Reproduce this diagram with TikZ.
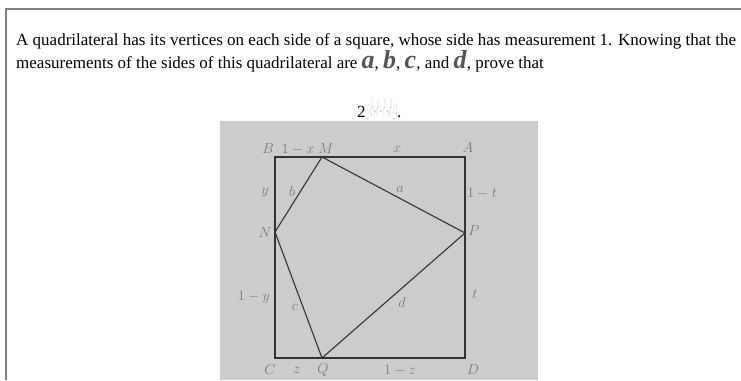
\documentclass[tikz,border=0pt]{standalone}
\usepackage{amsmath}
\usepackage{fontspec}
\setmainfont{Liberation Serif}
\newfontfamily\varfont{Liberation Serif}[BoldItalicFont={* Bold Italic}]
\usepackage{graphicx}
\definecolor{bgray}{HTML}{CCCCCC}
\definecolor{lblgray}{HTML}{7A7A7A}
\definecolor{linegray}{HTML}{333333}
\definecolor{framegray}{HTML}{808080}
\definecolor{vargray}{HTML}{555555}
\newcommand{\bigvar}[1]{\smash{\textcolor{vargray}{\fontsize{26}{26}\selectfont\varfont\textbf{\textit{#1}}}}}
\begin{document}
\begin{tikzpicture}[x=1pt,y=-1pt,
  body/.style={inner sep=0pt,anchor=base west,font=\fontsize{17}{20}\selectfont},
  lbl/.style={inner sep=0pt,text=lblgray,font=\fontsize{14}{14}\selectfont},
  sq/.style={draw=linegray,line width=1.3pt},
  quad/.style={draw=linegray,line width=1.1pt,line join=round}]
\useasboundingbox (0,0) rectangle (741,380);
\fill[white] (0,0) rectangle (741,380);
% frame
\draw[framegray,line width=1.3pt] (741,9) -- (6,9) -- (6,380);
% text
\node[body] (t1) at (16,45) {A quadrilateral has its vertices on each side of a square, whose side has measurement 1. Knowing that the};
\node[body] (t2) at (16,68) {measurements of the sides of this quadrilateral are \bigvar{a}, \bigvar{b}, \bigvar{c}, and \bigvar{d}, prove that};
\node[body] (two) at (357,117) {2};
\node[inner sep=0pt,anchor=base west,text=gray!60] (garb) at (367,116) {\resizebox{30pt}{16pt}{$\le a^2+b^2+c^2+d^2\le 4$}};
\node[body] (dot) at (397,117) {.};
% gray background
\fill[bgray] (220,121) rectangle (538,380);
% square
\coordinate (B) at (275,157);
\coordinate (A) at (465,157);
\coordinate (C) at (275,358);
\coordinate (D) at (465,358);
\coordinate (M) at (322,157);
\coordinate (N) at (275,232);
\coordinate (P) at (465,233);
\coordinate (Q) at (322,358);
\draw[sq] (B) -- (A) -- (D) -- (C) -- cycle;
\draw[quad] (M) -- (P) -- (Q) -- (N) -- cycle;
% labels
\node[lbl] (lB) at (268,149) {$B$};
\node[lbl] (l1x) at (298,149) {$1-x$};
\node[lbl] (lM) at (326,149) {$M$};
\node[lbl] (lx) at (397,149) {$x$};
\node[lbl] (lA) at (468,148) {$A$};
\node[lbl] (ly) at (265,193) {$y$};
\node[lbl] (lb) at (292,191) {$b$};
\node[lbl] (la) at (400,189) {$a$};
\node[lbl] (l1t) at (482,193) {$1-t$};
\node[lbl] (lN) at (265,233) {$N$};
\node[lbl] (lP) at (474,231) {$P$};
\node[lbl] (l1y) at (254,297) {$1-y$};
\node[lbl] (lc) at (295,307) {$c$};
\node[lbl] (ld) at (402,302) {$d$};
\node[lbl] (lt) at (475,294) {$t$};
\node[lbl] (lC) at (270,370) {$C$};
\node[lbl] (lz) at (297,370) {$z$};
\node[lbl] (lQ) at (323,370) {$Q$};
\node[lbl] (l1z) at (400,370) {$1-z$};
\node[lbl] (lD) at (473,370) {$D$};
\end{tikzpicture}
\end{document}
